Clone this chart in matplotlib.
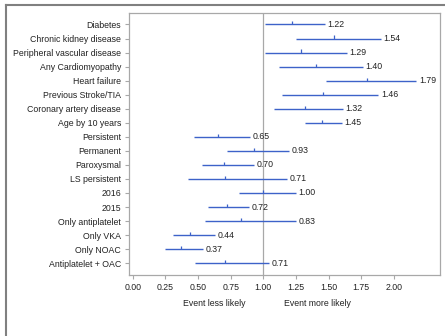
import matplotlib
matplotlib.use("Agg")
import matplotlib.pyplot as plt
from matplotlib.lines import Line2D

plt.rcParams["font.family"] = ["Liberation Sans", "DejaVu Sans"]

# ---- data (odds ratios with 95% CI) ----------------------------------------
labels = ["Diabetes", "Chronic kidney disease", "Peripheral vascular disease",
          "Any Cardiomyopathy", "Heart failure", "Previous Stroke/TIA",
          "Coronary artery disease", "Age by 10 years", "Persistent",
          "Permanent", "Paroxysmal", "LS persistent", "2016", "2015",
          "Only antiplatelet", "Only VKA", "Only NOAC", "Antiplatelet + OAC"]
odds  = [1.22, 1.54, 1.29, 1.40, 1.79, 1.46, 1.32, 1.45, 0.65,
         0.93, 0.70, 0.71, 1.00, 0.72, 0.83, 0.44, 0.37, 0.71]
lower = [1.01, 1.25, 1.01, 1.12, 1.48, 1.14, 1.08, 1.32, 0.47,
         0.72, 0.53, 0.42, 0.81, 0.58, 0.55, 0.31, 0.25, 0.48]
upper = [1.47, 1.90, 1.64, 1.76, 2.17, 1.88, 1.61, 1.60, 0.90,
         1.20, 0.93, 1.18, 1.25, 0.89, 1.25, 0.63, 0.54, 1.04]
xticks = [0.00, 0.25, 0.50, 0.75, 1.00, 1.25, 1.50, 1.75, 2.00]

blue = "#3d62c9"
grey = "#a8a8a8"
fs = 6.3

fig = plt.figure(figsize=(4.45, 3.36), dpi=100)
ax = fig.add_axes([0.291, 0.182, 0.698, 0.779])

ypos = list(range(len(labels)))

ax.axvline(1.0, color=grey, linewidth=0.9, zorder=1)
ax.hlines(ypos, lower, upper, color=blue, linewidth=1.0, zorder=2)
# small upward tick at the point estimate
ax.vlines(odds, [y - 0.22 for y in ypos], ypos, color=blue, linewidth=0.9, zorder=3)

for y, hi, o in zip(ypos, upper, odds):
    ax.text(hi + 0.02, y, f"{o:.2f}", fontsize=fs, color="#222222",
            va="center", ha="left")

ax.set_xlim(-0.0245, 2.353)
ax.set_ylim(17.83, -0.81)
ax.set_yticks(ypos)
ax.set_yticklabels(labels)
ax.set_xticks(xticks)
ax.set_xticklabels([f"{t:.2f}" for t in xticks])
ax.tick_params(axis="both", labelsize=fs, colors=grey, labelcolor="#222222",
               length=3, width=0.8, pad=3)

for s in ax.spines.values():
    s.set_color(grey)
    s.set_linewidth(0.9)

fig.text(214 / 445, 1 - 303 / 336, "Event less likely", fontsize=fs,
         ha="center", va="center", color="#222222")
fig.text(317 / 445, 1 - 303 / 336, "Event more likely", fontsize=fs,
         ha="center", va="center", color="#222222")

# outer frame (top and left edges only, the rest is cropped)
fig.add_artist(Line2D([6 / 445, 1.0], [1 - 5 / 336, 1 - 5 / 336],
                      transform=fig.transFigure, color="#808080", linewidth=1.5))
fig.add_artist(Line2D([6 / 445, 6 / 445], [0.0, 1 - 5 / 336],
                      transform=fig.transFigure, color="#808080", linewidth=1.5))

fig.savefig("out.png", dpi=100)
